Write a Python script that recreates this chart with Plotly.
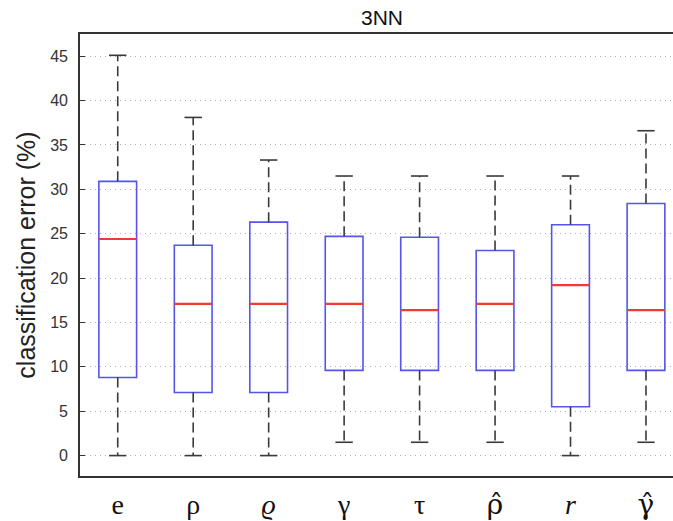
import plotly.graph_objects as go

# Box-plot statistics for 3NN classification error (%) per measure
HAT = "<span style='font-family:DejaVu Serif'>{}</span>"
labels = ["e", "ρ", "<i>ϱ</i>", "γ", "τ", HAT.format("ρ̂"), "<i>r</i>", HAT.format("γ̂")]
lower_whisker = [0.0, 0.0, 0.0, 1.5, 1.5, 1.5, 0.0, 1.5]
q1 = [8.8, 7.1, 7.1, 9.6, 9.6, 9.6, 5.5, 9.6]
median = [24.4, 17.1, 17.1, 17.1, 16.4, 17.1, 19.2, 16.4]
q3 = [30.9, 23.7, 26.3, 24.7, 24.6, 23.1, 26.0, 28.4]
upper_whisker = [45.1, 38.1, 33.3, 31.5, 31.5, 31.5, 31.5, 36.6]
y_ticks = [0, 5, 10, 15, 20, 25, 30, 35, 40, 45]

positions = list(range(1, len(labels) + 1))
BOX_HALF = 0.25
CAP_HALF = 0.115

fig = go.Figure()

# Blue boxes (whiskers drawn separately in black)
fig.add_trace(go.Box(
    x=positions, q1=q1, median=median, q3=q3,
    lowerfence=q1, upperfence=q3,
    width=2 * BOX_HALF,
    fillcolor="rgba(255,255,255,0)",
    line=dict(color="#5555ea", width=1.6),
    boxpoints=False, hoverinfo="skip", showlegend=False,
))

# Dashed whiskers
wx, wy = [], []
for p, lo, a, b, hi in zip(positions, lower_whisker, q1, q3, upper_whisker):
    wx += [p, p, None, p, p, None]
    wy += [b, hi, None, a, lo, None]
fig.add_trace(go.Scatter(
    x=wx, y=wy, mode="lines",
    line=dict(color="#3a3a3a", width=1.6, dash="10px,5px"),
    hoverinfo="skip", showlegend=False,
))

# Whisker caps
cx, cy = [], []
for p, lo, hi in zip(positions, lower_whisker, upper_whisker):
    cx += [p - CAP_HALF, p + CAP_HALF, None, p - CAP_HALF, p + CAP_HALF, None]
    cy += [hi, hi, None, lo, lo, None]
fig.add_trace(go.Scatter(
    x=cx, y=cy, mode="lines",
    line=dict(color="#3a3a3a", width=1.6),
    hoverinfo="skip", showlegend=False,
))

# Red median lines
mx, my = [], []
for p, m in zip(positions, median):
    mx += [p - BOX_HALF, p + BOX_HALF, None]
    my += [m, m, None]
fig.add_trace(go.Scatter(
    x=mx, y=my, mode="lines",
    line=dict(color="#ee3b36", width=2.2),
    hoverinfo="skip", showlegend=False,
))

fig.add_annotation(
    text="3NN", x=4.5, xref="x", y=1, yref="paper",
    yanchor="bottom", yshift=3, showarrow=False,
    font=dict(family="Liberation Sans, Arial", size=21, color="#111"),
)

fig.update_layout(
    width=673, height=521,
    margin=dict(l=80, r=0, t=34, b=42),
    paper_bgcolor="white", plot_bgcolor="white",
    font=dict(family="Liberation Sans, Arial", color="#222"),
)

fig.update_xaxes(
    range=[0.5, 8.358],
    tickmode="array", tickvals=positions, ticktext=labels,
    tickfont=dict(family="Liberation Serif, DejaVu Serif", size=28, color="#111"),
    showgrid=False, zeroline=False,
    showline=True, linecolor="#333", linewidth=1.6, mirror=True,
    ticks="", ticklabelstandoff=3,
)

fig.update_yaxes(
    range=[-2.3, 47.5],
    tickmode="array", tickvals=y_ticks,
    tickfont=dict(family="Liberation Sans, Arial", size=16, color="#333"),
    title=dict(text="classification error (%)",
               font=dict(family="Liberation Sans, Arial", size=25, color="#222"),
               standoff=7),
    showgrid=True, gridcolor="#b0b0b0", gridwidth=1, griddash="1px,4px",
    zeroline=False,
    showline=True, linecolor="#333", linewidth=1.6, mirror=False,
    ticks="inside", ticklen=5, tickcolor="#333", tickwidth=1,
    ticklabelstandoff=7,
)

fig.write_html("out.html")
